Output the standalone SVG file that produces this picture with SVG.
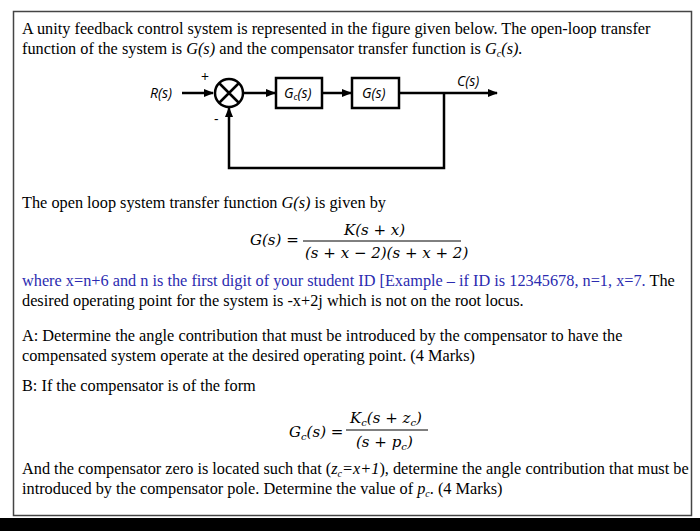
<svg xmlns="http://www.w3.org/2000/svg" width="700" height="531" viewBox="0 0 700 531">
<style>
.t{font-family:"Liberation Serif",serif;font-size:16.3px;fill:#000}
.b{fill:#2b2bb0}
.d{font-family:"Open Sans","DejaVu Sans",sans-serif;font-size:14px;fill:#000}
.m{font-family:"DejaVu Serif",serif;font-size:15px;font-style:italic;fill:#000}
.ln{stroke:#000;stroke-width:2.5;fill:none}
</style>
<defs><marker id="a" markerWidth="10" markerHeight="8" refX="9" refY="4" orient="auto" markerUnits="userSpaceOnUse"><path d="M0,0L10,4L0,8z" fill="#000"/></marker></defs>
<rect width="700" height="531" fill="#fff"/>
<rect x="13.5" y="11.5" width="678" height="504" fill="none" stroke="#444" stroke-width="1.5"/>
<rect x="0" y="518" width="700" height="13" fill="#000"/>
<text class="t" x="22" y="34">A unity feedback control system is represented in the figure given below. The open-loop transfer</text>
<text class="t" x="22" y="54">function of the system is <tspan font-style="italic">G(s)</tspan> and the compensator transfer function is <tspan font-style="italic">G<tspan font-size="10" dy="3">c</tspan><tspan dy="-3">(s).</tspan></tspan></text>
<g id="connectors">
<path class="ln" d="M182,93H213" marker-end="url(#a)"/>
<path class="ln" d="M243,93H275" marker-end="url(#a)"/>
<path class="ln" d="M322,93H351" marker-end="url(#a)"/>
<path class="ln" d="M399,93H497" marker-end="url(#a)"/>
<path class="ln" d="M444,93V168H229V108" marker-end="url(#a)"/>
</g>
<g id="sum"><circle cx="229" cy="93" r="14" fill="#fff" stroke="#000" stroke-width="2.5"/><path class="ln" d="M219,83L239,103M239,83L219,103"/></g>
<g id="Gc"><rect x="276" y="78" width="46" height="30" fill="#fff" stroke="#000" stroke-width="2.5"/><text class="d" x="284" y="98" font-style="italic">G<tspan font-size="9" dy="2">c</tspan><tspan dy="-2">(s)</tspan></text></g>
<g id="G"><rect x="352" y="78" width="47" height="30" fill="#fff" stroke="#000" stroke-width="2.5"/><text class="d" x="362" y="98" font-style="italic">G(s)</text></g>
<text class="d" x="150" y="98" font-style="italic">R(s)</text>
<text class="d" x="457" y="86" font-style="italic">C(s)</text>
<text class="d" x="201" y="82">+</text>
<text class="d" x="214" y="124">-</text>
<text class="t" x="22" y="208">The open loop system transfer function <tspan font-style="italic">G(s)</tspan> is given by</text>
<text class="m" x="250" y="245">G(s) =</text>
<text class="m" x="344" y="235">K(s + x)</text>
<line x1="303" y1="241" x2="461" y2="241" stroke="#000" stroke-width="1"/>
<text class="m" x="305" y="258">(s + x − 2)(s + x + 2)</text>
<text class="t" x="22" y="286"><tspan class="b">where x=n+6 and n is the first digit of your student ID [Example – if ID is 12345678, n=1, x=7.</tspan> The</text>
<text class="t" x="22" y="306">desired operating point for the system is -x+2j which is not on the root locus.</text>
<text class="t" x="22" y="341">A: Determine the angle contribution that must be introduced by the compensator to have the</text>
<text class="t" x="22" y="361">compensated system operate at the desired operating point. (4 Marks)</text>
<text class="t" x="22" y="391">B: If the compensator is of the form</text>
<text class="m" x="289" y="437">G<tspan font-size="10" dy="3">c</tspan><tspan dy="-3">(s) =</tspan></text>
<text class="m" x="350" y="423">K<tspan font-size="10" dy="3">c</tspan><tspan dy="-3">(s + z</tspan><tspan font-size="10" dy="3">c</tspan><tspan dy="-3">)</tspan></text>
<line x1="346" y1="430" x2="428" y2="430" stroke="#000" stroke-width="1"/>
<text class="m" x="356" y="447">(s + p<tspan font-size="10" dy="3">c</tspan><tspan dy="-3">)</tspan></text>
<text class="t" x="22" y="474" font-size="15.9">And the compensator zero is located such that (<tspan font-style="italic">z<tspan font-size="10" dy="3">c</tspan><tspan dy="-3">=x+1</tspan></tspan>), determine the angle contribution that must be</text>
<text class="t" x="22" y="494">introduced by the compensator pole. Determine the value of <tspan font-style="italic">p<tspan font-size="10" dy="3">c</tspan></tspan><tspan dy="-3">. (4 Marks)</tspan></text>
</svg>
